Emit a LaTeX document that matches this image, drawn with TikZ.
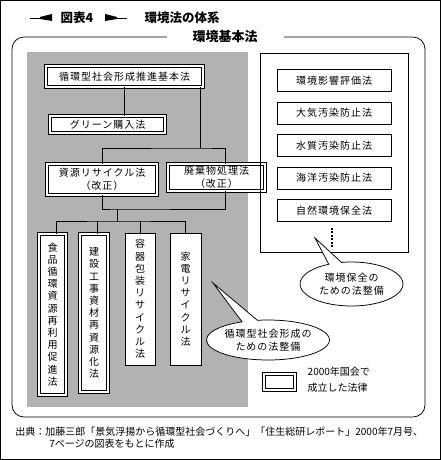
\documentclass[tikz,border=0pt]{standalone}
\usepackage{fontspec}
\usepackage{tikz}
\usetikzlibrary{shapes.callouts}
\newfontfamily\jp{Noto Sans CJK JP}
\newfontfamily\jpw{Noto Sans CJK JP}[LetterSpace=10]
\tikzset{every picture/.style={line width=0.75pt}}
\tikzset{
    law/.style={draw, fill=white, inner sep=0pt, align=center,
        font=\jpw\fontsize{10}{12.5}\selectfont},
    newlaw/.style={law, double, double distance=2.4pt},
    tate/.style={font=\jp\fontsize{10}{12.2}\selectfont},
    bubble/.style={ellipse callout, draw, fill=white, inner sep=0pt, align=center,
        font=\jpw\fontsize{10}{12.5}\selectfont},
    titletext/.style={anchor=west, font=\jp\bfseries\fontsize{12.5}{14}\selectfont},
}

\begin{document}
\begin{tikzpicture}[x=1pt, y=-1pt]
    \useasboundingbox (0,0) rectangle (441,460);
    \draw (0.5,0.5) rectangle (440.5,459.5);

    % title
    \draw (30,18) -- (42,18);
    \fill (40,17) -- (52,14) -- (52,21) -- (40,19) -- cycle;
    \node[titletext] (zuhyo) at (57,18) {図表4};
    \fill (105,14) -- (117,17) -- (117,19) -- (105,21) -- cycle;
    \draw (115,18) -- (127,18);
    \node[titletext] (taikei) at (141,18) {環境法の体系};

    % frame
    \draw[rounded corners=12pt] (12,37) rectangle (425,417);
    \node[fill=white, inner xsep=26pt, inner ysep=2pt,
        font=\jp\bfseries\fontsize{13}{14}\selectfont] (kihonhou) at (225,37) {環境基本法};

    % junkan side
    \fill[gray!60] (27,52) rectangle (248,407);
    \node[newlaw, minimum width=157pt, minimum height=21pt] (suishin) at (124.5,76.5) {循環型社会形成推進基本法};
    \node[newlaw, minimum width=115pt, minimum height=17pt] (green) at (107.5,124.5) {グリーン購入法};
    \node[newlaw, minimum width=110pt, minimum height=31pt] (shigen) at (102,179.5) {資源リサイクル法\\（改正）};
    \node[newlaw, minimum width=97pt, minimum height=27pt] (haiki) at (216.5,177.5) {廃棄物処理法\\（改正）};

    \node[newlaw, tate, minimum width=27pt, minimum height=161pt] (shokuhin) at (52.5,314.5)
        {食\\品\\循\\環\\資\\源\\再\\利\\用\\促\\進\\法};
    \node[newlaw, tate, minimum width=28pt, minimum height=158pt] (kensetsu) at (94,313)
        {建\\設\\工\\事\\資\\材\\再\\資\\源\\化\\法};
    \node[law, tate, minimum width=30pt, minimum height=132pt] (youki) at (140,299)
        {容\\器\\包\\装\\リ\\サ\\イ\\ク\\ル\\法};
    \node[law, tate, minimum width=31pt, minimum height=132pt] (kaden) at (185.5,299)
        {家\\電\\リ\\サ\\イ\\ク\\ル\\法};

    \coordinate (j1) at (200,148);
    \coordinate (j2) at (117,209);
    \coordinate (j3) at (117,221);
    \draw (suishin.south) -- (suishin.south |- green.north);
    \draw (suishin.south -| j1) -- (j1);
    \draw (shigen.north) |- (j1) -| ([xshift=8.5pt]haiki.north);
    \draw (shigen.south) |- (j2) -| ([xshift=8.5pt]haiki.south);
    \draw (j2) -- (j3);
    \draw ([xshift=3.5pt]shokuhin.north) |- (j3) -| (kaden.north);
    \draw ([xshift=3pt]kensetsu.north) -- ([xshift=3pt]kensetsu.north |- j3);
    \draw (youki.north) -- (youki.north |- j3);

    % hozen side
    \draw (260,53) rectangle (408,252);
    \node[law, minimum width=114pt, minimum height=22pt] (eikyou) at (334,80.5) {環境影響評価法};
    \node[law, minimum width=114pt, minimum height=22pt] (taiki) at (334,113) {大気汚染防止法};
    \node[law, minimum width=114pt, minimum height=22pt] (suishitsu) at (334,145.5) {水質汚染防止法};
    \node[law, minimum width=114pt, minimum height=22pt] (kaiyou) at (334,178) {海洋汚染防止法};
    \node[law, minimum width=114pt, minimum height=22pt] (shizen) at (334,210.5) {自然環境保全法};
    \draw[line width=2pt, dash pattern=on 2pt off 1.5pt] ([xshift=-2pt,yshift=-6pt]shizen.south) -- ++(0,21);

    % callouts
    \coordinate (tiphozen) at (315,238);
    \coordinate (tipjunkan) at (213,283);
    \node[bubble, minimum width=103pt, minimum height=44pt, callout absolute pointer={(tiphozen)}]
        (hozenmemo) at (351.5,284) {環境保全の\\ための法整備};
    \node[bubble, minimum width=120pt, minimum height=40pt, callout absolute pointer={(tipjunkan)}]
        (junkanmemo) at (268,340) {循環型社会形成の\\ための法整備};

    % legend
    \node[newlaw, minimum width=31pt, minimum height=16pt] (hanrei) at (279.5,382) {};
    \node[anchor=west, align=left, font=\jp\fontsize{10}{16}\selectfont] (hanreitext) at (304,380)
        {2000年国会で\\成立した法律};

    % source
    \node[anchor=west, inner sep=0pt, font=\jp\fontsize{10}{12}\selectfont] (source1) at (15,432)
        {出典：加藤三郎「景気浮揚から循環型社会づくりへ」「住生総研レポート」2000年7月号、};
    \node[anchor=west, inner sep=0pt, font=\jp\fontsize{10}{12}\selectfont] (source2) at (49,444)
        {7ページの図表をもとに作成};
\end{tikzpicture}
\end{document}
